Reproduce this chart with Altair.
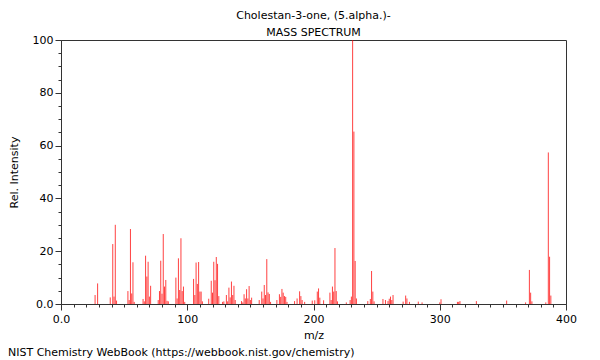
import altair as alt
import pandas as pd

mz = [27, 29, 39, 41, 42, 43, 44, 53, 54, 55, 56, 57, 58, 65, 66, 67, 68, 69, 70, 71,
      77, 78, 79, 80, 81, 82, 83, 84, 85, 91, 92, 93, 94, 95, 96, 97, 98, 105, 106, 107,
      108, 109, 110, 111, 112, 117, 119, 120, 121, 122, 123, 124, 125, 128, 129, 131, 132,
      133, 134, 135, 136, 137, 138, 143, 144, 145, 146, 147, 148, 149, 150, 151, 157, 159,
      160, 161, 162, 163, 164, 165, 166, 171, 173, 174, 175, 176, 177, 178, 179, 185, 187,
      189, 190, 191, 193, 199, 201, 203, 204, 205, 208, 213, 214, 215, 216, 217, 218, 219,
      226, 229, 230, 231, 232, 233, 234, 243, 245, 246, 247, 248, 255, 257, 259, 260, 261,
      262, 263, 271, 273, 274, 276, 283, 286, 300, 301, 314, 315, 316, 329, 353, 368, 371,
      372, 373, 384, 386, 387, 388]
intensity = [3.4, 7.8, 2.5, 22.7, 2.8, 30.0, 1.3, 4.9, 1.5, 28.4, 4.0, 15.8, 0.8, 1.9, 1.0,
             18.3, 10.4, 16.0, 2.8, 6.9, 1.5, 4.9, 16.4, 3.9, 26.5, 6.6, 9.1, 1.2, 1.0, 10.0,
             2.1, 17.3, 5.3, 24.9, 4.9, 6.6, 0.8, 9.5, 3.4, 15.7, 7.6, 15.9, 4.7, 4.7, 1.0,
             2.0, 8.8, 4.3, 16.0, 9.0, 17.8, 15.2, 3.0, 0.8, 1.0, 3.4, 1.0, 6.2, 2.5, 8.5, 3.4,
             6.9, 1.5, 1.1, 0.6, 3.7, 2.1, 5.6, 2.1, 6.8, 1.5, 2.4, 1.5, 4.7, 2.1, 7.2, 3.4,
             17.0, 4.4, 3.8, 0.8, 1.5, 3.7, 2.7, 5.7, 4.3, 3.0, 2.7, 0.8, 1.1, 2.1, 4.8, 3.0,
             1.5, 0.8, 1.3, 1.4, 4.7, 5.9, 2.4, 1.4, 4.3, 1.5, 6.6, 4.7, 21.2, 4.9, 1.0, 0.6,
             1.5, 2.8, 100.0, 65.3, 16.3, 2.1, 1.1, 1.9, 12.5, 4.7, 1.0, 1.9, 1.5, 1.1, 2.0,
             2.8, 1.5, 3.4, 0.9, 3.2, 2.1, 0.8, 0.9, 0.6, 0.6, 1.8, 0.8, 0.8, 1.1, 1.1, 1.3,
             0.6, 12.9, 4.3, 1.0, 0.6, 57.4, 17.9, 3.2]

x_ticks = list(range(0, 401, 10))
y_ticks = list(range(0, 101, 5))

df = pd.DataFrame({"mz": mz, "intensity": intensity})

FONT = "DejaVu Sans"
W, H = 505, 264

x_axis = alt.Axis(
    title="m/z", values=x_ticks, grid=False, labelOverlap=False, labelFlush=False,
    labelExpr="datum.value % 100 === 0 ? (datum.value === 0 ? '0.0' : datum.label) : ''",
    tickSize={"condition": {"test": "datum.value % 100 === 0", "value": 6}, "value": 3},
    tickColor="#333", domainColor="#333", labelColor="black", titleColor="black",
    labelFont=FONT, titleFont=FONT, labelFontSize=11, titleFontSize=11,
    titleFontWeight="normal", labelPadding=3, titlePadding=5,
)
y_axis = alt.Axis(
    title="Rel. Intensity", values=y_ticks, grid=False, labelOverlap=False, labelFlush=False,
    labelExpr="datum.value % 20 === 0 ? (datum.value === 0 ? '0.0' : datum.label) : ''",
    tickSize={"condition": {"test": "datum.value % 20 === 0", "value": 6}, "value": 3},
    tickColor="#333", domainColor="#333", labelColor="black", titleColor="black",
    labelFont=FONT, titleFont=FONT, labelFontSize=11, titleFontSize=11,
    titleFontWeight="normal", labelPadding=2, titlePadding=13,
)

bars = alt.Chart(df).mark_rule(color="#ff0000", strokeWidth=1, opacity=0.75).encode(
    x=alt.X("mz:Q", scale=alt.Scale(domain=[0, 400], nice=False, zero=False), axis=x_axis),
    y=alt.Y("intensity:Q", scale=alt.Scale(domain=[0, 100], nice=False), axis=y_axis),
    y2=alt.datum(0),
)

footer = alt.Chart(pd.DataFrame({"t": ["NIST Chemistry WebBook (https://webbook.nist.gov/chemistry)"]})).mark_text(
    align="left", baseline="middle", font=FONT, fontSize=11, color="black"
).encode(
    text="t:N", x=alt.value(-53), y=alt.value(313)
)

chart = alt.layer(bars, footer).properties(
    width=W, height=H,
    title=alt.TitleParams(
        text="Cholestan-3-one, (5.alpha.)-", subtitle="MASS SPECTRUM",
        font=FONT, subtitleFont=FONT, fontSize=11, subtitleFontSize=11,
        fontWeight="normal", color="black", subtitleColor="black",
        anchor="middle", offset=-4, subtitlePadding=6,
    ),
    autosize=alt.AutoSizeParams(type="none"),
    padding={"left": 53, "top": 32, "right": 26, "bottom": 62},
).configure_view(stroke="#333", strokeWidth=1)

chart.save("out.html", embed_options={"renderer": "svg", "actions": False})
